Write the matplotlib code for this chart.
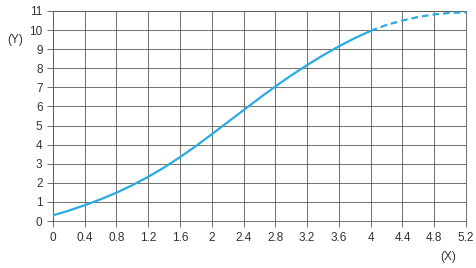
import matplotlib
matplotlib.use("Agg")
import matplotlib.pyplot as plt
import numpy as np

plt.rcParams['font.family'] = ['Liberation Sans', 'DejaVu Sans']

# curve, solid part then dashed part
x_solid = [0, 0.2, 0.4, 0.6, 0.8, 1.0, 1.2, 1.4, 1.6, 1.8, 2.0, 2.2, 2.4,
           2.6, 2.8, 3.0, 3.2, 3.4, 3.6, 3.8, 4.0]
y_solid = [0.3, 0.55, 0.83, 1.14, 1.49, 1.88, 2.32, 2.81, 3.35, 3.93, 4.55,
           5.18, 5.81, 6.44, 7.05, 7.63, 8.17, 8.68, 9.15, 9.58, 9.96]
x_dash = [4.0, 4.2, 4.4, 4.6, 4.8, 5.0, 5.2]
y_dash = [9.96, 10.27, 10.5, 10.69, 10.82, 10.9, 10.93]

xticks = [0, 0.4, 0.8, 1.2, 1.6, 2, 2.4, 2.8, 3.2, 3.6, 4, 4.4, 4.8, 5.2]
xtick_labels = ['0', '0.4', '0.8', '1.2', '1.6', '2', '2.4', '2.8', '3.2',
                '3.6', '4', '4.4', '4.8', '5.2']
yticks = list(range(0, 12))

blue = '#29abe2'
txt = '#333333'

fig = plt.figure(figsize=(4.77, 2.68), dpi=100)
ax = fig.add_axes([0.111, 0.175, 0.866, 0.784])

ax.plot(x_solid, y_solid, color=blue, lw=1.6, solid_capstyle='butt', zorder=3)
ax.plot(x_dash, y_dash, color=blue, lw=1.6, ls=(0, (3, 1.8)), zorder=3)

ax.set_xlim(0, 5.2)
ax.set_ylim(0, 11)
ax.set_xticks(xticks)
ax.set_xticklabels(xtick_labels)
ax.set_yticks(yticks)
ax.grid(True, color='#5a5a5a', lw=0.6)
for s in ax.spines.values():
    s.set_color('#5a5a5a')
    s.set_linewidth(0.6)
ax.tick_params(colors='#5a5a5a', labelcolor=txt, labelsize=8.5, width=0.6, length=4)

fig.text(0.015, 0.84, '(Y)', color=txt, fontsize=8.5)
fig.text(0.94, 0.03, '(X)', color=txt, fontsize=8.5, ha='center')

fig.savefig('out.png', dpi=100)
